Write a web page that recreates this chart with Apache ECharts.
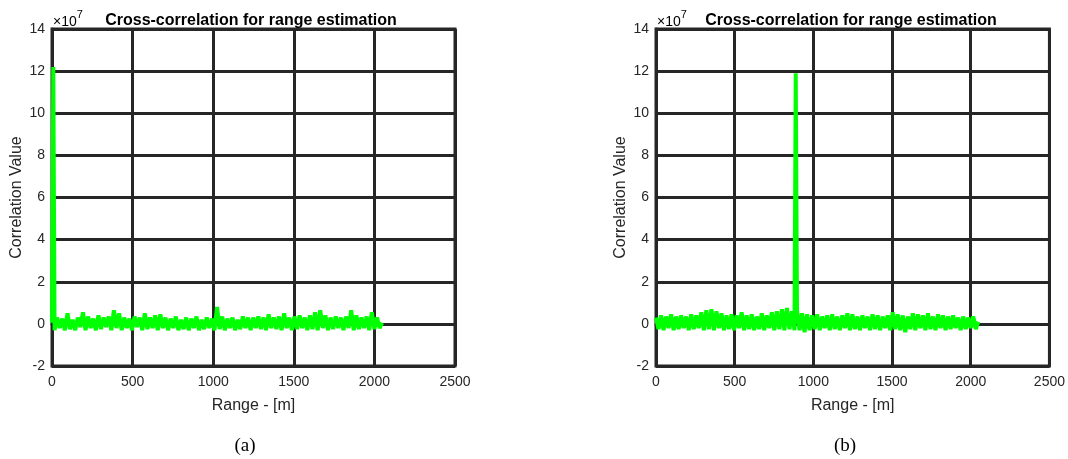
<!DOCTYPE html>
<html>
<head>
<meta charset="utf-8">
<script src="https://cdn.jsdelivr.net/npm/echarts@6/dist/echarts.min.js"></script>
<style>
  html, body { margin: 0; padding: 0; background: #fff; }
  #main { width: 1068px; height: 459px; }
</style>
</head>
<body>
<div id="main"></div>
<script>
// sample spacing of the noise readout (m) and the values, in units of 1e7
var rangeStep = 16;

var xTicks = [0, 500, 1000, 1500, 2000, 2500];
var yTicks = [-2, 0, 2, 4, 6, 8, 10, 12, 14];

// (a) target at the very start of the range
var peakA = [8, 12.2];
var noiseA = [
  0.05, -0.3, 0.3, -0.2, 0.25, -0.3, 0.5, -0.25, 0.2, -0.3,
  0.3, -0.15, 0.55, -0.3, 0.35, -0.2, 0.25, -0.3, 0.4, -0.25,
  0.3, -0.15, 0.35, -0.3, 0.65, -0.2, 0.5, -0.3, 0.3, -0.2,
  0.25, -0.3, 0.35, -0.15, 0.3, -0.3, 0.5, -0.25, 0.3, -0.2,
  0.4, -0.3, 0.45, -0.2, 0.3, -0.3, 0.25, -0.2, 0.35, -0.3,
  0.2, -0.25, 0.3, -0.3, 0.25, -0.2, 0.35, -0.3, 0.2, -0.25,
  0.3, -0.2, 0.25, -0.3, 0.8, -0.25, 0.35, -0.3, 0.25, -0.2,
  0.3, -0.3, 0.2, -0.25, 0.35, -0.2, 0.3, -0.3, 0.3, -0.2,
  0.35, -0.25, 0.3, -0.3, 0.45, -0.2, 0.3, -0.25, 0.35, -0.3,
  0.5, -0.2, 0.3, -0.3, 0.35, -0.25, 0.4, -0.2, 0.3, -0.3,
  0.4, -0.25, 0.55, -0.3, 0.65, -0.2, 0.4, -0.3, 0.3, -0.25,
  0.35, -0.2, 0.3, -0.3, 0.35, -0.2, 0.65, -0.3, 0.4, -0.25,
  0.3, -0.2, 0.35, -0.3, 0.55, -0.25, 0.3, -0.2, 0.05
];

// (b) target around 890 m
var peakB = [888, 11.9];
var noiseB = [
  0.3, -0.25, 0.4, -0.3, 0.35, -0.2, 0.45, -0.3, 0.35, -0.25,
  0.4, -0.2, 0.35, -0.3, 0.45, -0.25, 0.4, -0.2, 0.55, -0.3,
  0.65, -0.25, 0.7, -0.3, 0.6, -0.2, 0.5, -0.3, 0.4, -0.25,
  0.45, -0.3, 0.4, -0.2, 0.55, -0.3, 0.4, -0.25, 0.45, -0.3,
  0.35, -0.25, 0.5, -0.3, 0.4, -0.2, 0.55, -0.3, 0.6, -0.25,
  0.7, -0.3, 0.75, -0.25, 0.6, -0.3, 0.65, -0.3, 0.5, -0.4,
  0.45, -0.3, 0.4, -0.25, 0.45, -0.3, 0.35, -0.2, 0.4, -0.3,
  0.45, -0.25, 0.35, -0.3, 0.4, -0.2, 0.5, -0.3, 0.45, -0.25,
  0.35, -0.3, 0.4, -0.2, 0.35, -0.3, 0.45, -0.25, 0.4, -0.3,
  0.35, -0.2, 0.4, -0.3, 0.55, -0.25, 0.45, -0.3, 0.4, -0.4,
  0.35, -0.25, 0.5, -0.3, 0.45, -0.2, 0.4, -0.3, 0.5, -0.25,
  0.35, -0.3, 0.45, -0.2, 0.4, -0.3, 0.35, -0.25, 0.4, -0.2,
  0.3, -0.3, 0.35, -0.25, 0.3, -0.2, 0.35, -0.25, 0.1
];

var titleText = 'Cross-correlation for range estimation';
var axisColor = '#262626';
var font = '"Liberation Sans", Arial, sans-serif';

var buildData = function (noise, peak) {
  var pts = [], placed = false;
  for (var i = 0; i < noise.length; i++) {
    var x = i * rangeStep;
    if (!placed && x > peak[0]) {
      pts.push([peak[0], peak[1]]);
      placed = true;
    }
    pts.push([x, noise[i]]);
  }
  return pts;
};

var grids = [
  { left: 52, top: 29, width: 403, height: 337 },
  { left: 656, top: 29, width: 396, height: 337 }
];

var plainNum = function (v) { return String(v); };

var makeX = function (idx) {
  return {
    type: 'value', gridIndex: idx, min: xTicks[0], max: xTicks[xTicks.length - 1], interval: 500,
    name: 'Range - [m]', nameLocation: 'middle', nameGap: 32,
    nameTextStyle: { fontFamily: font, fontSize: 16, color: axisColor },
    axisLine: { show: true, lineStyle: { color: axisColor, width: 3 } },
    axisTick: { show: false },
    axisLabel: { fontFamily: font, fontSize: 14, color: axisColor, margin: 9, formatter: plainNum },
    splitLine: { show: true, lineStyle: { color: axisColor, width: 3 } }
  };
};

var makeY = function (idx) {
  return {
    type: 'value', gridIndex: idx, min: yTicks[0], max: yTicks[yTicks.length - 1], interval: 2,
    name: 'Correlation Value', nameLocation: 'middle', nameGap: 27,
    nameTextStyle: { fontFamily: font, fontSize: 16, color: axisColor },
    axisLine: { show: true, lineStyle: { color: axisColor, width: 3 } },
    axisTick: { show: false },
    axisLabel: { fontFamily: font, fontSize: 14, color: axisColor, margin: 7, formatter: plainNum },
    splitLine: { show: true, lineStyle: { color: axisColor, width: 3 } }
  };
};

var makeSeries = function (idx, data) {
  return {
    type: 'line', xAxisIndex: idx, yAxisIndex: idx, data: data,
    showSymbol: false, symbol: 'none',
    lineStyle: { color: '#00ff00', width: 4, join: 'bevel' },
    z: 5
  };
};

var titleStyle = { fontFamily: font, fontSize: 16, fontWeight: 'bold', color: '#000' };
var expText = {
  text: '{a|×10}{b|7}', rich: {
    a: { fontFamily: font, fontSize: 14, color: axisColor, padding: [6, 0, 0, 0] },
    b: { fontFamily: font, fontSize: 11, color: axisColor, verticalAlign: 'top' }
  }
};

var option = {
  animation: false,
  backgroundColor: '#fff',
  title: [
    { text: titleText, left: 246, top: 8, textAlign: 'center', textStyle: titleStyle },
    { text: titleText, left: 846, top: 8, textAlign: 'center', textStyle: titleStyle }
  ],
  grid: grids.map(function (g) {
    return Object.assign({ show: true, borderColor: axisColor, borderWidth: 3 }, g);
  }),
  xAxis: [makeX(0), makeX(1)],
  yAxis: [makeY(0), makeY(1)],
  series: [makeSeries(0, buildData(noiseA, peakA)), makeSeries(1, buildData(noiseB, peakB))],
  graphic: [
    { type: 'text', left: 53, top: 9, style: expText },
    { type: 'text', left: 657, top: 9, style: expText },
    { type: 'text', x: 245, y: 446, style: {
        text: '(a)', fontFamily: '"Liberation Serif", "Times New Roman", serif', fontSize: 19,
        fill: '#000', align: 'center', verticalAlign: 'middle' } },
    { type: 'text', x: 845, y: 446, style: {
        text: '(b)', fontFamily: '"Liberation Serif", "Times New Roman", serif', fontSize: 19,
        fill: '#000', align: 'center', verticalAlign: 'middle' } }
  ]
};

var chart = echarts.init(document.getElementById('main'), null, { renderer: 'canvas' });
chart.setOption(option);
</script>
</body>
</html>
